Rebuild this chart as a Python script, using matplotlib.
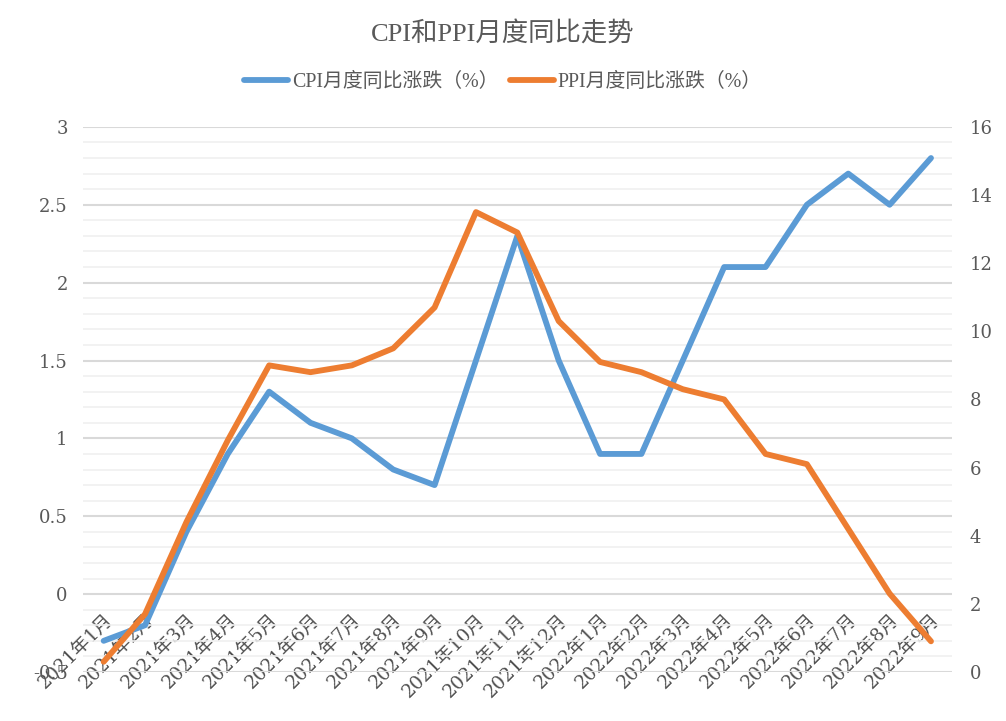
import matplotlib.pyplot as plt
from matplotlib.ticker import MultipleLocator

plt.rcParams['font.family'] = ['Liberation Serif', 'Noto Sans CJK SC']

# 数据
months = ['2021年1月', '2021年2月', '2021年3月', '2021年4月', '2021年5月', '2021年6月',
          '2021年7月', '2021年8月', '2021年9月', '2021年10月', '2021年11月', '2021年12月',
          '2022年1月', '2022年2月', '2022年3月', '2022年4月', '2022年5月', '2022年6月',
          '2022年7月', '2022年8月', '2022年9月']
cpi = [-0.3, -0.2, 0.4, 0.9, 1.3, 1.1, 1.0, 0.8, 0.7, 1.5, 2.3, 1.5,
       0.9, 0.9, 1.5, 2.1, 2.1, 2.5, 2.7, 2.5, 2.8]
ppi = [0.3, 1.7, 4.4, 6.8, 9.0, 8.8, 9.0, 9.5, 10.7, 13.5, 12.9, 10.3,
       9.1, 8.8, 8.3, 8.0, 6.4, 6.1, 4.2, 2.3, 0.9]

blue = '#5B9BD5'
orange = '#ED7D31'
text_gray = '#595959'
tick_font = ['DejaVu Serif', 'Noto Sans CJK SC']

fig = plt.figure(figsize=(10.06, 7.21), dpi=100)
ax = fig.add_axes([0.0825, 0.068, 0.8635, 0.756])
ax2 = ax.twinx()

x = list(range(len(months)))
l1, = ax.plot(x, cpi, color=blue, lw=4.2, solid_capstyle='round', label='CPI月度同比涨跌（%）', zorder=3)
l2, = ax2.plot(x, ppi, color=orange, lw=4.2, solid_capstyle='round', label='PPI月度同比涨跌（%）', zorder=3)

ax.set_xlim(-0.5, len(months) - 0.5)
ax.set_ylim(-0.5, 3)
ax2.set_ylim(0, 16)
ax.yaxis.set_major_locator(MultipleLocator(0.5))
ax.yaxis.set_minor_locator(MultipleLocator(0.1))
ax2.yaxis.set_major_locator(MultipleLocator(2))

# 网格线
ax.grid(True, which='major', axis='y', color='#d9d9d9', lw=1.5)
ax.grid(True, which='minor', axis='y', color='#f0f0f0', lw=1.2)
ax.set_axisbelow(True)

for a in (ax, ax2):
    for s in a.spines.values():
        s.set_visible(False)
    a.tick_params(which='both', length=0, labelsize=13, labelcolor=text_gray)

ax.yaxis.set_major_formatter(plt.FuncFormatter(lambda v, p: f'{v:g}'))
ax.tick_params(axis='y', pad=11)
ax2.tick_params(axis='y', pad=13)

# 横轴在 0 处交叉
ax.spines['bottom'].set_position(('data', 0))
ax.set_xticks(x)
ax.set_xticklabels(months, rotation=45, ha='right', rotation_mode='anchor')
ax.tick_params(axis='x', pad=12, labelsize=13.5, labelcolor='#505050')

for lab in ax.get_xticklabels() + ax.get_yticklabels() + ax2.get_yticklabels():
    lab.set_fontfamily(tick_font)

ax2.set_zorder(ax.get_zorder() + 1)

fig.text(0.5, 0.953, 'CPI和PPI月度同比走势', ha='center', va='center', fontsize=19, color=text_gray)
fig.legend(handles=[l1, l2], loc='center', bbox_to_anchor=(0.5, 0.886), ncol=2, frameon=False,
           fontsize=14.3, labelcolor=text_gray, handlelength=2.2, handletextpad=0.2, columnspacing=0.6)

fig.savefig('out.png', dpi=100)
